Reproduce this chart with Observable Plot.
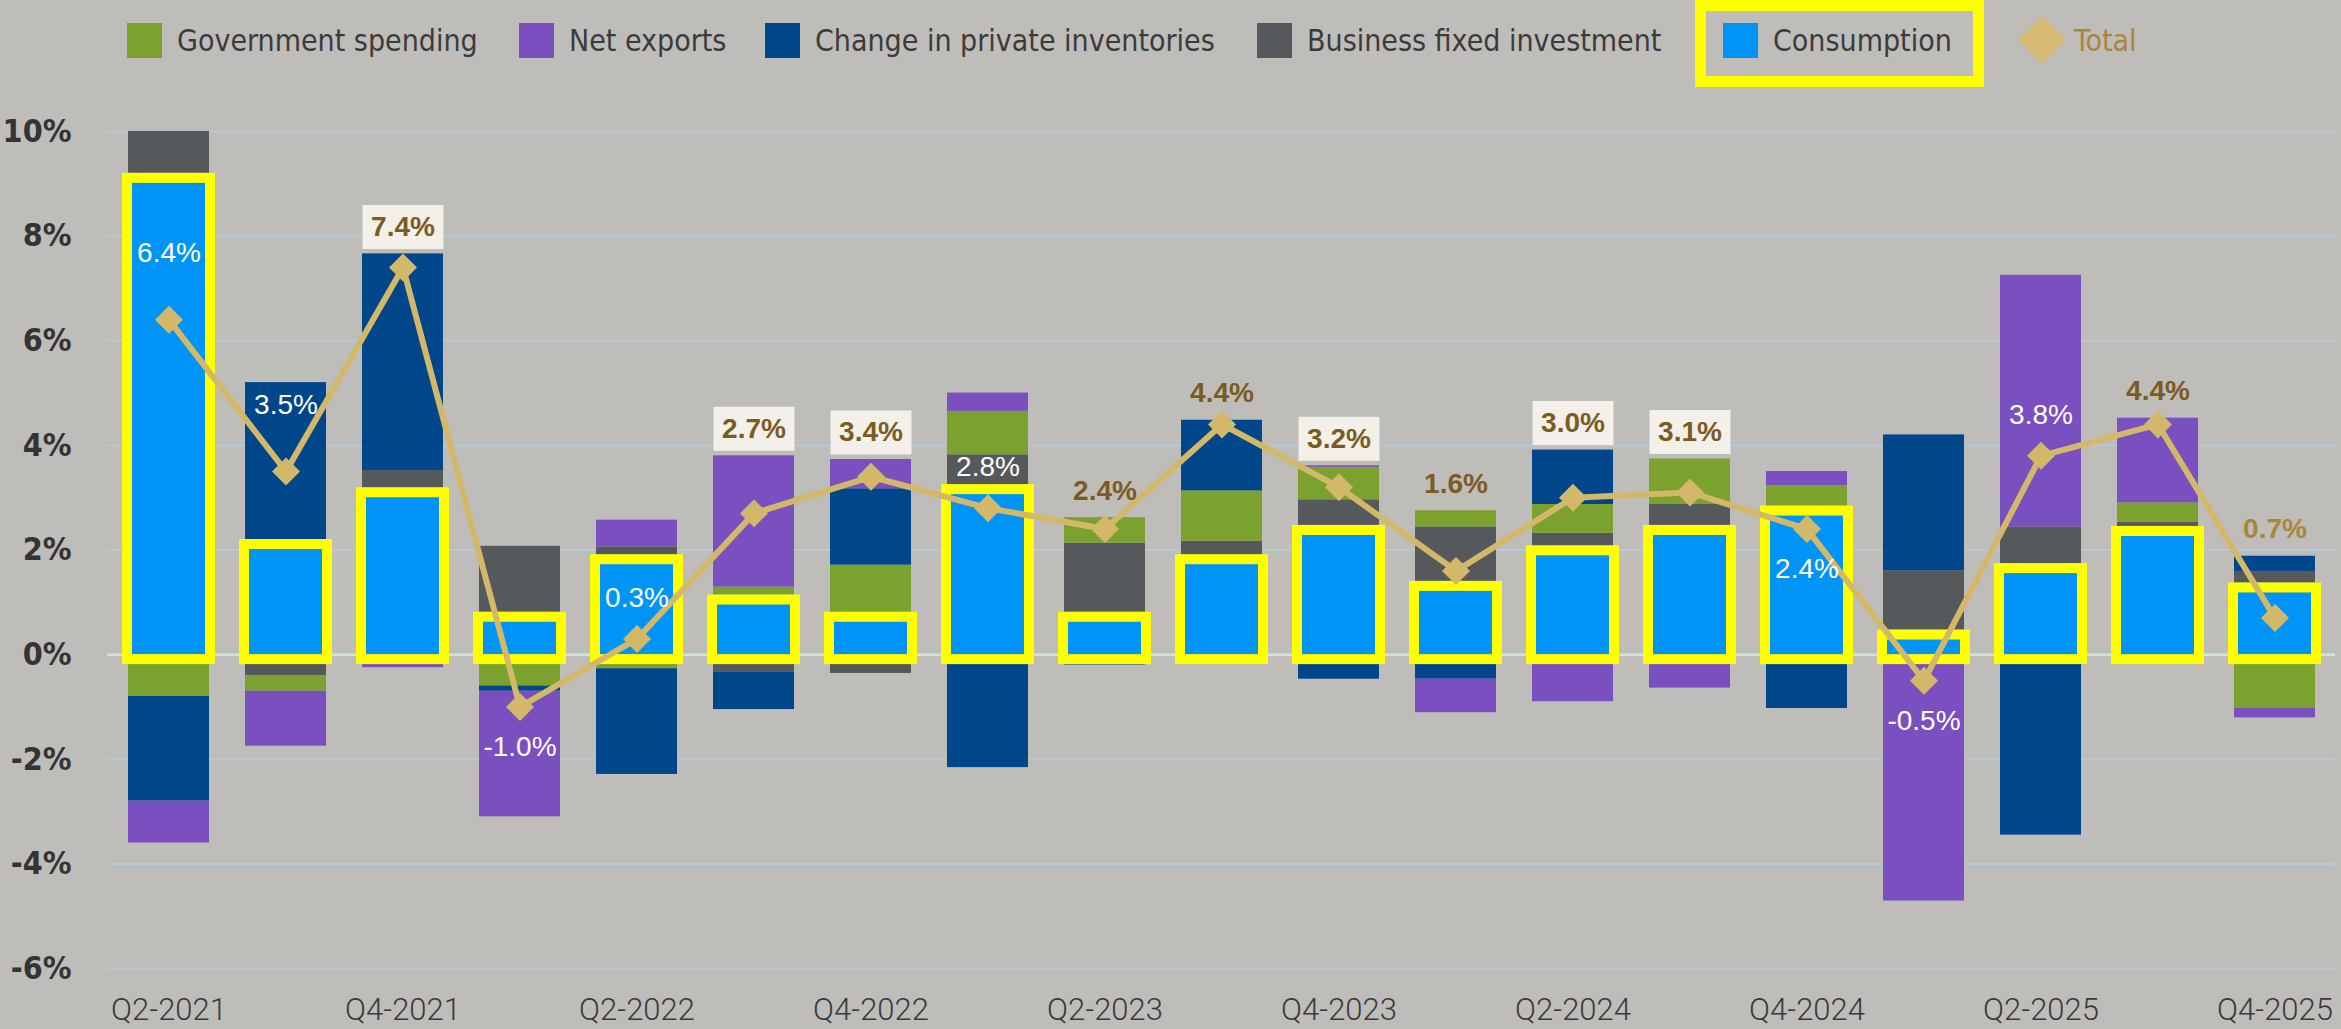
<!DOCTYPE html>
<html>
<head>
<meta charset="utf-8">
<script src="https://cdn.jsdelivr.net/npm/d3@7"></script>
<script src="https://cdn.jsdelivr.net/npm/@observablehq/plot@0.6"></script>
<style>
  html, body { margin: 0; padding: 0; background: #bfbdb9; width: 2341px; height: 1029px; overflow: hidden; }
  #legend { position: relative; height: 90px; width: 2341px;
    font-family: "DejaVu Sans Condensed", "DejaVu Sans", sans-serif; font-stretch: condensed;
    font-size: 30px; color: #3b3b3b; }
  .item { position: absolute; top: 0; height: 80px; display: flex; align-items: center; white-space: nowrap; }
  .sw { width: 35px; height: 35px; margin-right: 15px; flex: none; }
  .hl { position: absolute; top: 0; height: 87px; box-sizing: border-box; border: 11px solid #ffff00; }
  #chart svg { display: block; overflow: visible; }
</style>
</head>
<body>
<div id="legend"></div>
<div id="chart"></div>
<script>
// ---------- data ----------
const quarters = ["Q2-2021","Q3-2021","Q4-2021","Q1-2022","Q2-2022","Q3-2022","Q4-2022","Q1-2023","Q2-2023","Q3-2023","Q4-2023","Q1-2024","Q2-2024","Q3-2024","Q4-2024","Q1-2025","Q2-2025","Q3-2025","Q4-2025"];
const consumption        = [9.2, 2.2, 3.19, 0.81, 1.91, 1.14, 0.81, 3.25, 0.81, 1.91, 2.47, 1.40, 2.08, 2.47, 2.84, 0.47, 1.74, 2.45, 1.37];
const businessInvestment = [0.8, -0.4, 0.33, 1.26, 0.15, -0.34, -0.36, 0.57, 1.32, 0.26, 0.49, 1.04, 0.24, 0.40, 0, 1.13, 0.70, 0.08, 0.22];
const government         = [-0.8, -0.3, 0, -0.6, -0.27, 0.15, 0.90, 0.83, 0.49, 0.96, 0.62, 0.31, 0.55, 0.87, 0.39, 0, 0, 0.37, -1.02];
const inventories        = [-2.0, 3.0, 4.14, -0.1, -2.02, -0.71, 1.46, -2.16, -0.2, 1.35, -0.47, -0.47, 1.04, -0.03, -1.03, 2.6, -3.45, -0.1, 0.29];
const netExports         = [-0.8, -1.05, -0.25, -2.4, 0.51, 2.51, 0.56, 0.35, 0, -0.08, 0.03, -0.64, -0.9, -0.61, 0.27, -4.71, 4.81, 1.62, -0.19];
const total              = [6.4, 3.5, 7.4, -1.0, 0.3, 2.7, 3.4, 2.8, 2.4, 4.4, 3.2, 1.6, 3.0, 3.1, 2.4, -0.5, 3.8, 4.4, 0.7];

// how each total label is annotated in the original
const labelStyle = ["white","white","box","white","white","box","box","white","plain","plain","box","plain","box","box","white","white","white","plain","light"];
const labelPlace = ["high","high","top","below","above","top","top","above","top","top","top","top","top","top","below","below","above","top","top"];

const xTickLabels = ["Q2-2021","Q4-2021","Q2-2022","Q4-2022","Q2-2023","Q4-2023","Q2-2024","Q4-2024","Q2-2025","Q4-2025"];
const yTicks = [-6, -4, -2, 0, 2, 4, 6, 8, 10];

const seriesNames  = ["Consumption","Business fixed investment","Government spending","Change in private inventories","Net exports"];
const seriesValues = [consumption, businessInvestment, government, inventories, netExports];
const seriesColors = ["#0094f6","#56595c","#7ba12f","#00468a","#7a4fbf"];

const legendOrder = ["Government spending","Net exports","Change in private inventories","Business fixed investment","Consumption"];

// ---------- legend ----------
const legendLeft = {"Government spending":127,"Net exports":519,"Change in private inventories":765,"Business fixed investment":1257,"Consumption":1723};
const legend = document.getElementById("legend");
const hl = document.createElement("div");
hl.className = "hl"; hl.style.left = "1695px"; hl.style.width = "289px";
legend.appendChild(hl);
legendOrder.forEach(name => {
  const it = document.createElement("div");
  it.className = "item"; it.style.left = legendLeft[name] + "px";
  const sw = document.createElement("div");
  sw.className = "sw"; sw.style.background = seriesColors[seriesNames.indexOf(name)];
  const tx = document.createElement("span"); tx.textContent = name;
  it.appendChild(sw); it.appendChild(tx);
  legend.appendChild(it);
});
const tot = document.createElement("div");
tot.className = "item"; tot.style.left = "2018px"; tot.style.color = "#a8863a";
tot.innerHTML = '<svg width="48" height="48" style="margin-right:8px"><polygon points="24,0 48,24 24,48 0,24" fill="#d6bc74"/></svg><span>Total</span>';
legend.appendChild(tot);

// ---------- chart ----------
const rows = quarters.flatMap((q, i) => seriesNames.map((s, k) => ({quarter: q, series: s, value: seriesValues[k][i]})));
const consRows = quarters.map((q, i) => ({quarter: q, value: consumption[i]}));
const totals = quarters.map((q, i) => ({
  quarter: q,
  total: total[i],
  top: d3.sum(seriesValues, v => Math.max(0, v[i])),
  label: `${total[i].toFixed(1)}%`,
  style: labelStyle[i],
  place: labelPlace[i]
}));

const labelBox = { draw(ctx) { ctx.moveTo(-40.5, -22); ctx.lineTo(40.5, -22); ctx.lineTo(40.5, 22); ctx.lineTo(-40.5, 22); ctx.closePath(); } };

const brownFont = {fontFamily: "Liberation Sans, Arial, sans-serif", fontSize: 28, fontWeight: "bold"};
const whiteFont = {fontFamily: "Liberation Sans, Arial, sans-serif", fontSize: 28, fill: "#ffffff"};
const topRows = totals.filter(d => d.place === "top");

const chart = Plot.plot({
  width: 2341,
  height: 939,
  marginLeft: 107,
  marginRight: 6,
  marginTop: 41,
  marginBottom: 61,
  style: {background: "transparent", fontFamily: "DejaVu Sans Condensed, DejaVu Sans, sans-serif", overflow: "visible"},
  x: {domain: quarters, paddingInner: 0.31, paddingOuter: 0.152, label: null},
  y: {domain: [-6, 10], label: null},
  color: {domain: seriesNames, range: seriesColors},
  marks: [
    Plot.gridY({ticks: yTicks, stroke: "#b5c9d6", strokeOpacity: 1, strokeWidth: 2}),
    Plot.ruleY([0], {stroke: "#cfe7d7", strokeWidth: 2.5}),
    Plot.axisY({ticks: yTicks, tickFormat: d => `${d}%`, tickSize: 0, tickPadding: 36, fontSize: 32, fontWeight: "bold", fill: "#343434", label: null, fontFamily: "DejaVu Sans Condensed, DejaVu Sans, sans-serif"}),
    Plot.axisX({ticks: xTickLabels, tickSize: 0, tickPadding: 29, fontSize: 31, fontWeight: 300, fill: "#3a3a3a", label: null, fontFamily: "Roboto, Liberation Sans, sans-serif"}),
    Plot.barY(rows, {x: "quarter", y: "value", fill: "series"}),
    Plot.barY(consRows, {x: "quarter", y: "value", fill: "none", stroke: "#ffff00", strokeWidth: 10, insetLeft: -1, insetRight: -1, dy: 5}),
    Plot.line(totals, {x: "quarter", y: "total", stroke: "#d4b86a", strokeWidth: 6}),
    Plot.dot(totals, {x: "quarter", y: "total", symbol: "diamond2", r: 12.6, fill: "#d4b86a"}),
    // boxed labels above the bar stack
    Plot.dot(topRows.filter(d => d.style === "box"), {x: "quarter", y: "top", dy: -27, symbol: labelBox, r: 10, fill: "#f3efe9"}),
    Plot.text(topRows.filter(d => d.style === "box" || d.style === "plain"), {x: "quarter", y: "top", dy: -27, text: "label", fill: "#7b5b1f", ...brownFont}),
    Plot.text(topRows.filter(d => d.style === "light"), {x: "quarter", y: "top", dy: -27, text: "label", fill: "#a8863a", ...brownFont}),
    // white labels near the total point
    Plot.text(totals.filter(d => d.place === "above"), {x: "quarter", y: "total", dy: -41, text: "label", ...whiteFont}),
    Plot.text(totals.filter(d => d.place === "high"), {x: "quarter", y: "total", dy: -67, text: "label", ...whiteFont}),
    Plot.text(totals.filter(d => d.place === "below"), {x: "quarter", y: "total", dy: 40, text: "label", ...whiteFont})
  ]
});
document.getElementById("chart").appendChild(chart);
</script>
</body>
</html>
